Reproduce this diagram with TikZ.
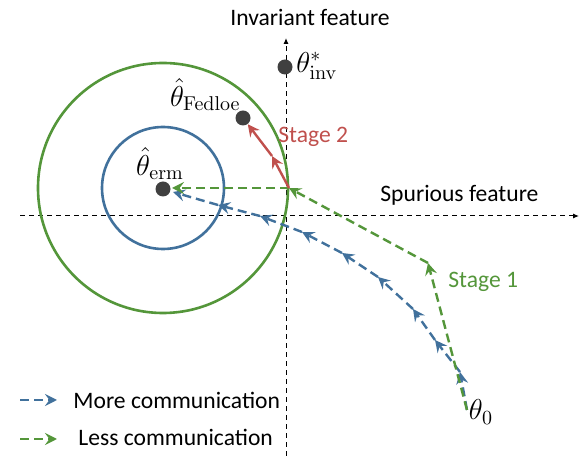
\documentclass[tikz,border=0pt]{standalone}
\usepackage{amsmath}
\usepackage[no-math]{fontspec}
\setmainfont{Carlito}
\usetikzlibrary{arrows.meta}

\definecolor{ourblue}{RGB}{65,113,156}
\definecolor{ourgreen}{RGB}{84,150,58}
\definecolor{ourred}{RGB}{192,80,77}
\definecolor{dotgray}{RGB}{64,64,64}

\begin{document}
\begin{tikzpicture}[x=0.5pt,y=-0.5pt,
	lbl/.style={font=\fontsize{11.8}{14}\selectfont, inner sep=0pt},
	mlbl/.style={font=\fontsize{14.5}{17}\selectfont, inner sep=0pt},
	axis/.style={black, line width=0.5pt, dash pattern=on 2.5pt off 2pt, -{Latex[length=3pt,width=2.5pt]}},
	dot/.style={circle, fill=dotgray, minimum size=7.5pt, inner sep=0pt},
	tip/.style={-{Stealth[length=6pt,width=6pt,inset=2.2pt]}},
	blueseg/.style={ourblue, line width=1.2pt, dash pattern=on 4.5pt off 2.5pt, tip},
	greenseg/.style={ourgreen, line width=1.2pt, dash pattern=on 4.5pt off 2.5pt, tip},
	redseg/.style={ourred, line width=1.2pt, tip},
	ring/.style={line width=1.3pt}]
	\useasboundingbox (0,0) rectangle (579,459);
	% axes
	\coordinate (vbot) at (286,456);
	\coordinate (vtop) at (286,38);
	\coordinate (hleft) at (20,216);
	\coordinate (hright) at (579,216);
	\draw[axis] (vbot) -- (vtop);
	\draw[axis] (hleft) -- (hright);
	\node[lbl] (invlbl) at (310,17) {Invariant feature};
	\node[lbl, anchor=west] (spulbl) at (380,195) {Spurious feature};
	% circles
	\coordinate (ctr) at (163,188);
	\draw[ring, ourgreen] (ctr) circle[radius=125];
	\draw[ring, ourblue] (ctr) circle[radius=61];
	% points
	\node[dot] (erm) at (163,189) {};
	\node[dot] (fedloe) at (243,118) {};
	\node[dot] (inv) at (285,67) {};
	\node[mlbl, anchor=south] (ermlbl) at (160,180) {$\hat{\theta}_{\mathrm{erm}}$};
	\node[mlbl, anchor=south east] (fedlbl) at (241,111) {$\hat{\theta}_{\mathrm{Fedloe}}$};
	\node[mlbl, anchor=west] (invlbl2) at (296,66) {$\theta^{*}_{\mathrm{inv}}$};
	\node[mlbl] (start) at (481,412) {$\theta_0$};
	% more communication
	\coordinate (b0) at (467,410);
	\coordinate (b1) at (460,372);
	\coordinate (b2) at (435,340);
	\coordinate (b3) at (413,309);
	\coordinate (b4) at (378,277);
	\coordinate (b5) at (342,253);
	\coordinate (b6) at (302,232);
	\coordinate (b7) at (260,216);
	\coordinate (b8) at (218,205);
	\coordinate (b9) at (173,192);
	\foreach \a/\b in {b0/b1,b1/b2,b2/b3,b3/b4,b4/b5,b5/b6,b6/b7,b7/b8,b8/b9}
		\draw[blueseg] (\a) -- (\b);
	% less communication
	\coordinate (g1) at (428,263);
	\coordinate (g2) at (289,188);
	\coordinate (g3) at (172,188);
	\draw[greenseg] (b0) -- (g1);
	\draw[greenseg] (g1) -- (g2);
	\draw[greenseg] (g2) -- (g3);
	\node[lbl, anchor=west, text=ourgreen] (stage1) at (448,282) {Stage 1};
	% stage 2
	\coordinate (r1) at (272,156);
	\draw[redseg] (g2) -- (r1);
	\draw[redseg] (r1) -- (fedloe);
	\node[lbl, anchor=west, text=ourred] (stage2) at (278,137) {Stage 2};
	% legend
	\coordinate (lb0) at (20,400);
	\coordinate (lb1) at (57,400);
	\coordinate (lg0) at (20,439);
	\coordinate (lg1) at (57,439);
	\draw[blueseg] (lb0) -- (lb1);
	\draw[greenseg] (lg0) -- (lg1);
	\node[lbl, anchor=west] (morelbl) at (73,400) {More communication};
	\node[lbl, anchor=west] (lesslbl) at (78,437) {Less communication};
\end{tikzpicture}
\end{document}
